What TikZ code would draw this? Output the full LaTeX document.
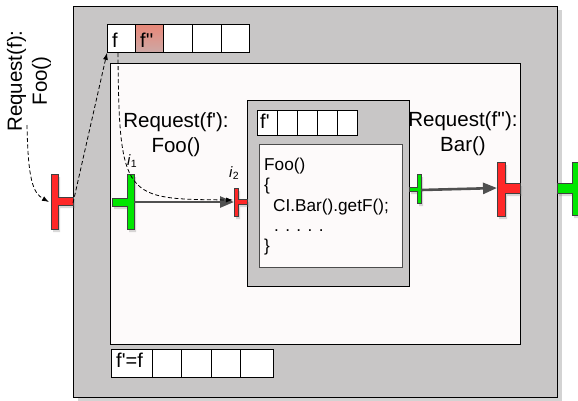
\documentclass[tikz,border=0pt]{standalone}
\usepackage{fontspec}
\setmainfont{Liberation Sans}
\usetikzlibrary{arrows.meta,shadows}
\definecolor{boxgray}{RGB}{200,198,198}
\definecolor{paper}{RGB}{253,250,250}
\definecolor{portred}{RGB}{255,40,40}
\definecolor{portgreen}{RGB}{0,230,0}
\definecolor{flowgray}{RGB}{80,80,80}
% straight prime mark
\newcommand{\pr}{\textquotesingle}
\begin{document}
\begin{tikzpicture}[x=1pt,y=-1pt,
  frame/.style={draw=black,line width=1pt,inner sep=0pt,anchor=north west},
  cell/.style={draw=black,line width=0.8pt,fill=white,inner sep=0pt,anchor=north west},
  lbl/.style={font=\fontsize{20.5}{25}\selectfont,align=center,inner sep=0pt},
  celltext/.style={font=\fontsize{20}{22}\selectfont,inner sep=0pt,anchor=base west},
  code/.style={font=\fontsize{17.2}{20}\selectfont,anchor=base west,inner sep=0pt},
  porttag/.style={font=\fontsize{15}{17}\selectfont,inner sep=0pt,anchor=base west},
  portshadow/.style={drop shadow={opacity=0.3,shadow xshift=2pt,shadow yshift=-3pt}},
  redport/.style={fill=portred,draw=black!75,line width=0.6pt,portshadow},
  greenport/.style={fill=portgreen,draw=black!75,line width=0.6pt,portshadow},
  flow/.style={draw=flowgray,line width=2.6pt,-{Triangle[length=14pt,width=11pt]}},
  dashflow/.style={draw=black,line width=0.8pt,dash pattern=on 4pt off 2.5pt,-{Latex[length=7pt,width=5pt]}}]
\useasboundingbox (0,0) rectangle (578,400);

% outer component
\node[frame,fill=boxgray,minimum width=484pt,minimum height=391pt,
      drop shadow={opacity=0.35,shadow xshift=4pt,shadow yshift=-3pt}] (outer) at (73,6) {};

% its request queue
\node[cell,minimum width=28pt,minimum height=28pt] (qa1) at (107,24) {};
\node[cell,minimum width=28pt,minimum height=28pt,
      top color={rgb,255:red,232;green,135;blue,120},
      bottom color={rgb,255:red,205;green,168;blue,165}] (qa2) at (135,24) {};
\node[cell,minimum width=29pt,minimum height=28pt] (qa3) at (163,24) {};
\node[cell,minimum width=29pt,minimum height=28pt] (qa4) at (192,24) {};
\node[cell,minimum width=28pt,minimum height=28pt] (qa5) at (221,24) {};
\node[celltext] (qa1t) at (112,47) {f};
\node[celltext] (qa2t) at (140,47) {f\pr\pr};

% inner region
\node[frame,fill=paper,minimum width=410pt,minimum height=281pt] (inner) at (110,63) {};

% lower queue
\node[cell,minimum width=41pt,minimum height=28pt] (qb1) at (111,349) {};
\node[cell,minimum width=29pt,minimum height=28pt] (qb2) at (152,349) {};
\node[cell,minimum width=30pt,minimum height=28pt] (qb3) at (181,349) {};
\node[cell,minimum width=29pt,minimum height=28pt] (qb4) at (211,349) {};
\node[cell,minimum width=33pt,minimum height=28pt] (qb5) at (240,349) {};
\node[celltext] (qb1t) at (116,367) {f\pr=f};

% nested component
\node[frame,fill=boxgray,minimum width=162pt,minimum height=186pt] (comp) at (247,100) {};
\node[cell,minimum width=20pt,minimum height=25pt] (qc1) at (257,110) {};
\node[cell,minimum width=20pt,minimum height=25pt] (qc2) at (277,110) {};
\node[cell,minimum width=20pt,minimum height=25pt] (qc3) at (297,110) {};
\node[cell,minimum width=20pt,minimum height=25pt] (qc4) at (317,110) {};
\node[cell,minimum width=20pt,minimum height=25pt] (qc5) at (337,110) {};
\node[celltext] (qc1t) at (260,128) {f\pr};

% code of Foo()
\node[frame,draw=black!70,fill=paper,minimum width=143pt,minimum height=123pt] (codebox) at (259,144) {};
\node[code] (c1) at (264,170) {Foo()};
\node[code] (c2) at (264,190) {\{};
\node[code] (c3) at (273,211) {CI.Bar().getF();};
\node[code] (c4) at (274,231) {. . . . .};
\node[code] (c5) at (264,251) {\}};

% request labels
\node[lbl,rotate=90] (reqf) at (29,81) {Request(f):\\Foo()};
\node[lbl] (reqfp) at (176,135) {Request(f\pr):\\Foo()};
\node[lbl] (reqfpp) at (463,134) {Request(f\pr\pr):\\Bar()};
\node[porttag] (tag1) at (127,165) {\textit{i}\textsubscript{1}};
\node[porttag] (tag2) at (229,177) {\textit{i}\textsubscript{2}};

% ports
\path[redport] (51,174) -- (58,174) -- (58,197) -- (73,197) -- (73,205) -- (58,205) -- (58,229) -- (51,229) -- cycle;
\path[greenport] (127,174) -- (134,174) -- (134,229) -- (127,229) -- (127,206) -- (112,206) -- (112,198) -- (127,198) -- cycle;
\path[redport] (234,188) -- (238,188) -- (238,199) -- (247,199) -- (247,204) -- (238,204) -- (238,216) -- (234,216) -- cycle;
\path[greenport] (417,174) -- (421,174) -- (421,203) -- (417,203) -- (417,191) -- (409,191) -- (409,187) -- (417,187) -- cycle;
\path[redport] (497,162) -- (505,162) -- (505,183) -- (520,183) -- (520,193) -- (505,193) -- (505,216) -- (497,216) -- cycle;
\path[greenport] (557,183) -- (572,183) -- (572,162) -- (583,162) -- (583,215) -- (572,215) -- (572,193) -- (557,193) -- cycle;

% connector end points
\coordinate (reqtail) at (27,125);
\coordinate (inbar) at (49,202);
\coordinate (instub) at (73,203);
\coordinate (i1out) at (134,202);
\coordinate (i2in) at (234,202);
\coordinate (i2bar) at (233,200);
\coordinate (ftail) at (118,53);
\coordinate (barout) at (421,190);
\coordinate (barin) at (497,188);

% bindings
\draw[flow] (i1out) -- (i2in);
\draw[flow] (barout) -- (barin);

% request flow
\draw[dashflow] (reqtail) .. controls (28,180) and (33,193) .. (inbar);
\draw[dashflow] (instub) -- (qa1.south west);
\draw[dashflow] (ftail) .. controls (119,200) and (125,199) .. (i2bar);
\end{tikzpicture}
\end{document}
